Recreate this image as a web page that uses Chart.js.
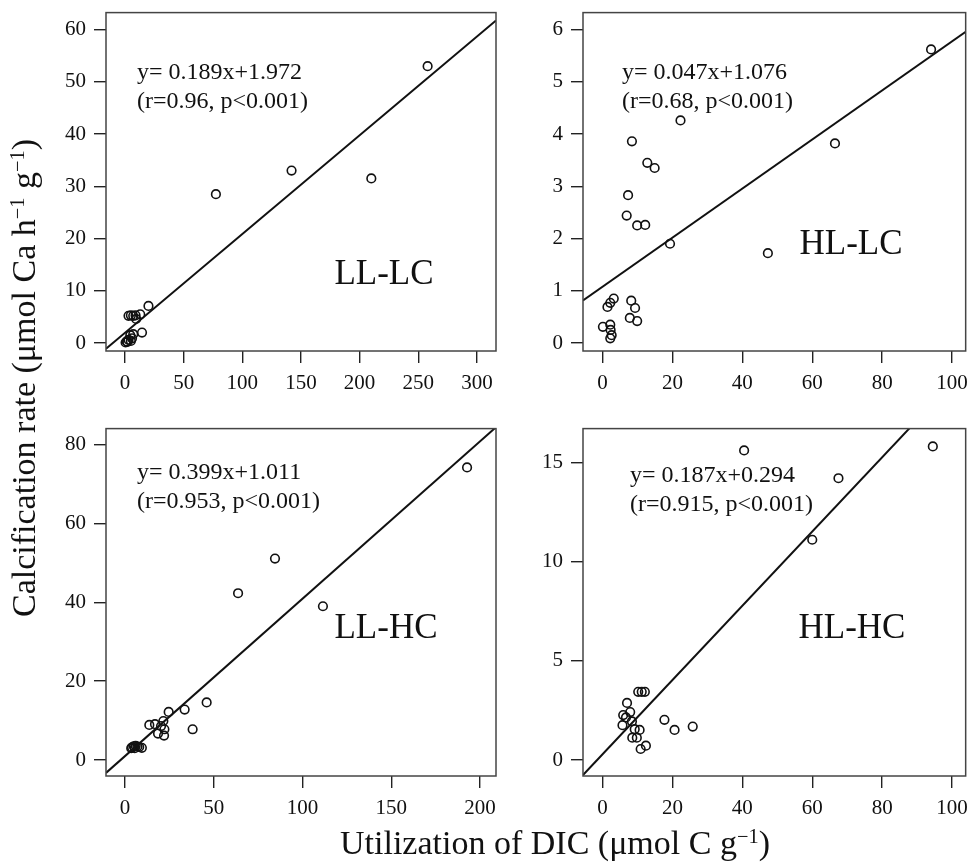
<!DOCTYPE html>
<html>
<head>
<meta charset="utf-8">
<script src="https://cdn.jsdelivr.net/npm/chart.js@4.4.1/dist/chart.umd.min.js"></script>
<style>
  body { margin: 0; background: #fff; width: 976px; height: 865px; position: relative; overflow: hidden;
         font-family: "Liberation Serif", "DejaVu Serif", serif; color: #111; }
  canvas { position: absolute; }
  .title { position: absolute; white-space: nowrap; font-size: 34px; }
  .ytitle { left: 24px; top: 378px; transform: translate(-50%, -50%) rotate(-90deg); }
  .xtitle { left: 555px; top: 843px; transform: translate(-50%, -50%); }
  sup { font-size: 60%; position: relative; top: -0.55em; vertical-align: baseline; }
</style>
</head>
<body>
<canvas id="c1" width="470" height="415" style="left:40px;top:-8px"></canvas>
<canvas id="c2" width="456" height="415" style="left:520px;top:-8px"></canvas>
<canvas id="c3" width="470" height="450" style="left:40px;top:408px"></canvas>
<canvas id="c4" width="456" height="450" style="left:520px;top:408px"></canvas>
<div class="title ytitle">Calcification rate (μmol Ca h<sup>−1</sup> g<sup>−1</sup>)</div>
<div class="title xtitle">Utilization of DIC (μmol C g<sup>−1</sup>)</div>
<script>
// LL-LC
const llLcX = [258, 142, 210, 77.5, 20, 3, 5, 7, 9, 13, 9.5, 14.5, 7, 4.5, 0.5, 1.5, 3, 5, 6, 2];
const llLcY = [53, 33, 31.5, 28.5, 7.1, 5.2, 5.3, 5.2, 5.3, 5.5, 4.6, 2.0, 1.7, 1.5, 0.1, 0.3, 0.6, 0.4, 0.9, 0.2];
// HL-LC
const hlLcX = [94, 66.5, 47.3, 22.3, 8.4, 12.8, 14.9, 7.3, 6.9, 9.9, 12.2, 19.3, 3.2, 2.2, 1.4, 8.2, 9.3, 7.8, 9.9, 0.1, 2.2, 2.3, 2.6, 2.2];
const hlLcY = [5.62, 3.82, 1.72, 4.26, 3.86, 3.45, 3.35, 2.83, 2.44, 2.25, 2.26, 1.9, 0.85, 0.77, 0.69, 0.81, 0.67, 0.48, 0.42, 0.31, 0.35, 0.25, 0.15, 0.09];
// LL-HC
const llHcX = [192.7, 84.5, 111.5, 63.7, 46, 33.6, 24.6, 13.7, 16.9, 21.6, 20.3, 22.2, 18.6, 22, 38.1, 4, 5, 6, 7, 8, 9.5, 5.5, 3.5];
const llHcY = [74.2, 51.1, 39, 42.3, 14.6, 12.8, 12.2, 8.9, 9.1, 9.9, 8.6, 7.8, 6.7, 6.2, 7.8, 3.2, 3.5, 3.6, 3.4, 3.3, 3.1, 3.0, 3.0];
// HL-HC
const hlHcX = [94.5, 40.5, 67.5, 60, 10.2, 11.2, 12.1, 7, 7.9, 5.9, 6.7, 8.4, 5.7, 17.7, 20.6, 25.8, 9.2, 10.6, 8.5, 9.8, 12.4, 10.9];
const hlHcY = [15.8, 15.6, 14.2, 11.1, 3.44, 3.44, 3.44, 2.88, 2.42, 2.27, 2.15, 1.95, 1.76, 2.03, 1.52, 1.69, 1.56, 1.52, 1.13, 1.13, 0.73, 0.56];

const treatments = ['LL-LC', 'HL-LC', 'LL-HC', 'HL-HC'];
const fitSlope = [0.189, 0.047, 0.399, 0.187];
const fitIntercept = [1.972, 1.076, 1.011, 0.294];
const equations = ['y= 0.189x+1.972', 'y= 0.047x+1.076', 'y= 0.399x+1.011', 'y= 0.187x+0.294'];
const stats = ['(r=0.96, p<0.001)', '(r=0.68, p<0.001)', '(r=0.953, p<0.001)', '(r=0.915, p<0.001)'];

const xTicksLC = [0, 50, 100, 150, 200, 250, 300];
const yTicksLLLC = [0, 10, 20, 30, 40, 50, 60];
const xTicksHL = [0, 20, 40, 60, 80, 100];
const yTicksHLLC = [0, 1, 2, 3, 4, 5, 6];
const xTicksLLHC = [0, 50, 100, 150, 200];
const yTicksLLHC = [0, 20, 40, 60, 80];
const yTicksHLHC = [0, 5, 10, 15];

const serif = '"Liberation Serif", "DejaVu Serif", serif';

// box around plot area + equation text + treatment label
const boxText = {
  id: 'boxText',
  afterDraw(chart, args, opts) {
    const { ctx, chartArea: a } = chart;
    ctx.save();
    ctx.strokeStyle = '#444';
    ctx.lineWidth = 1.5;
    ctx.strokeRect(a.left, a.top, a.right - a.left, a.bottom - a.top);
    ctx.fillStyle = '#111';
    ctx.textBaseline = 'middle';
    ctx.textAlign = 'left';
    ctx.font = '24px ' + serif;
    ctx.fillText(opts.eq, a.left + opts.eqX, a.top + opts.eqY);
    ctx.fillText(opts.st, a.left + opts.eqX, a.top + opts.eqY + 29);
    ctx.textAlign = 'center';
    ctx.font = '35px ' + serif;
    ctx.fillText(opts.label, a.left + opts.labX, a.top + opts.labY);
    ctx.restore();
  }
};

function axis(min, max, ticks, fit) {
  return {
    type: 'linear', min, max,
    afterBuildTicks: s => { s.ticks = ticks.map(v => ({ value: v })); },
    afterFit: fit,
    grid: { drawOnChartArea: false, drawTicks: true, tickLength: 12, color: '#222', lineWidth: 1.4 },
    border: { display: false },
    ticks: { color: '#111', font: { family: serif, size: 21 }, padding: 8, maxRotation: 0, autoSkip: false }
  };
}

function makePanel(id, i, xs, ys, xr, yr, xt, yt, pad, yw, xh, txt) {
  const pts = xs.map((x, k) => ({ x, y: ys[k] }));
  const line = [xr[0], xr[1]].map(x => ({ x, y: fitIntercept[i] + fitSlope[i] * x }));
  return new Chart(document.getElementById(id), {
    data: {
      datasets: [
        { type: 'line', data: line, borderColor: '#111', borderWidth: 2, pointRadius: 0, clip: 0 },
        { type: 'scatter', data: pts, pointStyle: 'circle', pointRadius: 4.3, borderWidth: 1.6,
          borderColor: '#111', backgroundColor: 'rgba(0,0,0,0)', clip: false }
      ]
    },
    options: {
      responsive: false, animation: false, devicePixelRatio: 1,
      layout: { padding: pad },
      plugins: {
        legend: { display: false }, tooltip: { enabled: false },
        boxText: { eq: equations[i], st: stats[i], label: treatments[i], eqX: txt[0], eqY: txt[1], labX: txt[2], labY: txt[3] }
      },
      scales: {
        x: axis(xr[0], xr[1], xt, s => { s.height = xh; }),
        y: axis(yr[0], yr[1], yt, s => { s.width = yw; })
      }
    },
    plugins: [boxText]
  });
}

makePanel('c1', 0, llLcX, llLcY, [-16.2, 316.3], [-1.53, 63.25], xTicksLC, yTicksLLLC,
  { top: 4, right: 14, left: 0, bottom: 0 }, 66, 56, [31, 60, 278, 262]);
makePanel('c2', 1, hlLcX, hlLcY, [-5.6, 103.9], [-0.153, 6.325], xTicksHL, yTicksHLLC,
  { top: 4, right: 4, left: 0, bottom: 0 }, 63, 56, [39, 60, 268, 232]);
makePanel('c3', 2, llHcX, llHcY, [-10.7, 209], [-4.05, 84.05], xTicksLLHC, yTicksLLHC,
  { top: 6, right: 14, left: 0, bottom: 0 }, 66, 82, [31, 44, 280, 200]);
makePanel('c4', 3, hlHcX, hlHcY, [-5.6, 103.9], [-0.8, 16.7], xTicksHL, yTicksHLHC,
  { top: 6, right: 4, left: 0, bottom: 0 }, 63, 82, [47, 47, 269, 200]);
</script>
</body>
</html>
